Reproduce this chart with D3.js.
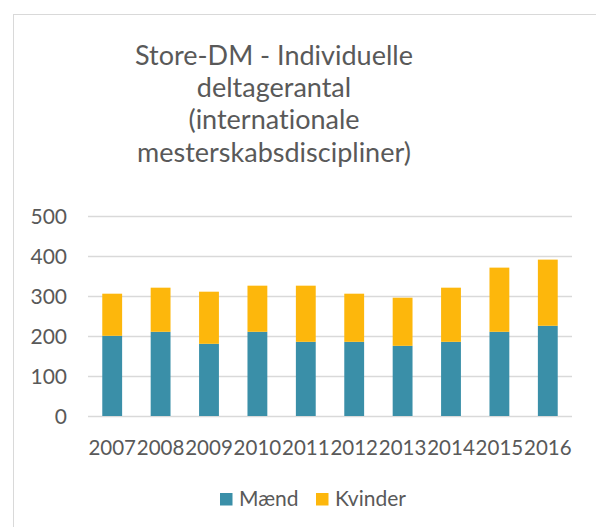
<!DOCTYPE html>
<html>
<head>
<meta charset="utf-8">
<script src="https://cdn.jsdelivr.net/npm/d3@7"></script>
<style>
  html, body { margin: 0; padding: 0; background: #fff; }
  svg { display: block; font-family: Lato, "Open Sans", sans-serif; font-variant-ligatures: none; }
</style>
</head>
<body>
<svg id="chart" width="596" height="527"></svg>
<script>
const years = ["2007","2008","2009","2010","2011","2012","2013","2014","2015","2016"];
const maend = [200, 210, 180, 210, 185, 185, 175, 185, 210, 225];
const kvinder = [105, 110, 130, 115, 140, 120, 120, 135, 160, 165];
const seriesNames = ["Mænd", "Kvinder"];
const colors = ["#3A8FA8", "#FDB70C"];
const yTicks = [0, 100, 200, 300, 400, 500];
const titleLines = ["Store-DM - Individuelle", "deltagerantal", "(internationale", "mesterskabsdiscipliner)"];

const svg = d3.select("#chart");
const textColor = "#595959";

// chart border
svg.append("rect").attr("x", 13.5).attr("y", 14.5).attr("width", 620).attr("height", 560)
  .attr("fill", "none").attr("stroke", "#d9d9d9").attr("stroke-width", 1);

// title
const title = svg.append("text").attr("text-anchor", "middle").attr("fill", textColor)
  .attr("font-size", 27);
titleLines.forEach((l, i) => {
  title.append("tspan").attr("x", 274).attr("y", 65 + i * 32.2).text(l);
});

const x = d3.scaleBand().domain(years).range([88, 572]).paddingInner(0.59).paddingOuter(0.295);
const y = d3.scaleLinear().domain([0, 500]).range([416, 215.5]);

// gridlines
svg.append("g").selectAll("line").data(yTicks).join("line")
  .attr("x1", 88).attr("x2", 572)
  .attr("y1", d => Math.round(y(d)) + 0.5).attr("y2", d => Math.round(y(d)) + 0.5)
  .attr("stroke", "#d9d9d9").attr("stroke-width", 1.3);

// y axis labels
const yAxis = d3.axisLeft(y).tickValues(yTicks).tickSize(0).tickPadding(0);
const yg = svg.append("g").attr("transform", "translate(67,0)").call(yAxis);
yg.select(".domain").remove();
yg.selectAll("text").attr("font-size", 21).attr("fill", textColor)
  .attr("font-family", "Lato, sans-serif").attr("dy", "0.36em");

// stacked bars
const data = years.map((yr, i) => ({year: yr, "Mænd": maend[i], "Kvinder": kvinder[i]}));
const stack = d3.stack().keys(seriesNames)(data);
svg.append("g").selectAll("g").data(stack).join("g")
  .attr("fill", (d, i) => colors[i])
  .selectAll("rect").data(d => d).join("rect")
  .attr("x", d => x(d.data.year))
  .attr("width", x.bandwidth())
  .attr("y", d => y(d[1]))
  .attr("height", d => y(d[0]) - y(d[1]));

// x axis labels
const xAxis = d3.axisBottom(x).tickSize(0).tickPadding(0);
const xg = svg.append("g").attr("transform", "translate(0,440)").call(xAxis);
xg.select(".domain").remove();
xg.selectAll("text").attr("font-size", 20.5).attr("fill", textColor)
  .attr("font-family", "Lato, sans-serif").attr("dy", "0.72em").attr("y", 0);

// legend
const legendItems = [{name: seriesNames[0], color: colors[0], x: 220}, {name: seriesNames[1], color: colors[1], x: 316}];
const lg = svg.append("g");
legendItems.forEach(it => {
  lg.append("rect").attr("x", it.x).attr("y", 493).attr("width", 12.5).attr("height", 12.5).attr("fill", it.color);
  lg.append("text").attr("x", it.x + 19).attr("y", 506).attr("font-size", 21).attr("fill", textColor).text(it.name);
});
</script>
</body>
</html>
